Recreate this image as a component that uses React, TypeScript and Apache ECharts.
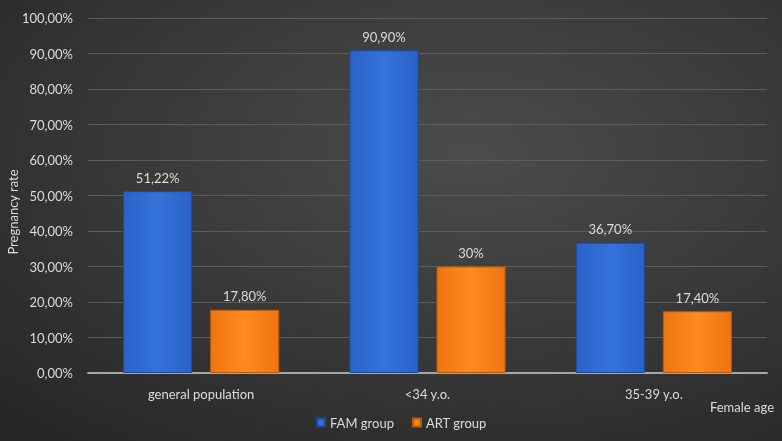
import React, { useEffect, useRef } from "react";
import * as echarts from "echarts";

const categories = ["general population", "<34 y.o.", "35-39 y.o."];
const famValues = [51.22, 90.9, 36.7];
const artValues = [17.8, 30, 17.4];
const famLabels = ["51,22%", "90,90%", "36,70%"];
const artLabels = ["17,80%", "30%", "17,40%"];
const yTicks = [0, 10, 20, 30, 40, 50, 60, 70, 80, 90, 100];

const FONT = "Lato, 'Open Sans', sans-serif";
const TEXT = "#dcdcdc";

function fmtTick(v: number) {
  return v.toFixed(2).replace(".", ",") + "%";
}

export default function App() {
  const ref = useRef<HTMLDivElement>(null);

  useEffect(() => {
    if (!ref.current) return;
    const chart = echarts.init(ref.current, undefined, { renderer: "svg" });

    const blue = new echarts.graphic.LinearGradient(0, 0, 1, 0, [
      { offset: 0, color: "#2b62c8" },
      { offset: 0.5, color: "#3472dc" },
      { offset: 1, color: "#2b62c8" },
    ]);
    const orange = new echarts.graphic.LinearGradient(0, 0, 1, 0, [
      { offset: 0, color: "#ee7410" },
      { offset: 0.5, color: "#ff8a1e" },
      { offset: 1, color: "#ee7410" },
    ]);

    chart.setOption({
      animation: false,
      backgroundColor: new echarts.graphic.RadialGradient(0.6, 0.35, 0.85, [
        { offset: 0, color: "#4c4c4c" },
        { offset: 1, color: "#262626" },
      ]),
      textStyle: { fontFamily: FONT },
      grid: {
        left: 88,
        right: 15,
        top: 18,
        bottom: 68,
        containLabel: false,
        outerBoundsMode: "none",
      },
      legend: {
        left: 311,
        top: 411,
        icon: "rect",
        itemWidth: 8,
        itemHeight: 8,
        itemGap: 18,
        textStyle: { color: TEXT, fontSize: 13, fontFamily: FONT },
        data: ["FAM group", "ART group"],
      },
      xAxis: {
        type: "category",
        data: categories,
        axisLine: { lineStyle: { color: "#a6a6a6", width: 2 } },
        axisTick: { show: false },
        axisLabel: { color: TEXT, fontSize: 13, margin: 14, fontFamily: FONT },
      },
      yAxis: {
        type: "value",
        min: 0,
        max: 100,
        interval: 10,
        axisLine: { show: false },
        axisTick: { show: false },
        axisLabel: {
          color: TEXT,
          fontSize: 13,
          margin: 15,
          fontFamily: FONT,
          formatter: (v: number) => (yTicks.includes(v) ? fmtTick(v) : ""),
        },
        splitLine: { lineStyle: { color: "#5c5c5c", width: 1 } },
      },
      series: [
        {
          name: "FAM group",
          type: "bar",
          data: famValues,
          barGap: "26%",
          barCategoryGap: "31%",
          itemStyle: { color: blue, borderColor: "#1d4a9c", borderWidth: 1 },
          label: {
            show: true,
            position: "top",
            distance: 7,
            color: TEXT,
            fontSize: 13,
            fontFamily: FONT,
            formatter: (p: any) => famLabels[p.dataIndex],
          },
        },
        {
          name: "ART group",
          type: "bar",
          data: artValues,
          itemStyle: { color: orange, borderColor: "#b85a0c", borderWidth: 1 },
          label: {
            show: true,
            position: "top",
            distance: 7,
            color: TEXT,
            fontSize: 13,
            fontFamily: FONT,
            formatter: (p: any) => artLabels[p.dataIndex],
          },
        },
      ],
      graphic: [
        {
          type: "text",
          x: 13,
          y: 212,
          rotation: Math.PI / 2,
          style: {
            text: "Pregnancy rate",
            fill: TEXT,
            fontSize: 13,
            fontFamily: FONT,
            textAlign: "center",
            textVerticalAlign: "middle",
          },
        },
        {
          type: "text",
          right: 8,
          top: 400,
          style: { text: "Female age", fill: TEXT, fontSize: 13, fontFamily: FONT },
        },
      ],
    });

    return () => chart.dispose();
  }, []);

  return (
    <div
      ref={ref}
      style={{ position: "fixed", left: 0, top: 0, width: 782, height: 441 }}
    />
  );
}
